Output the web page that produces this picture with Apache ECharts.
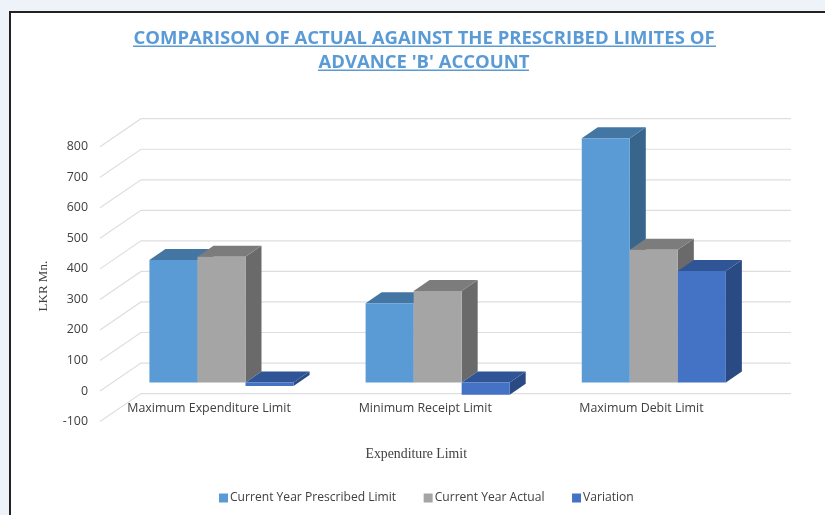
<!DOCTYPE html>
<html><head><meta charset="utf-8">
<style>
html,body{margin:0;padding:0;width:825px;height:515px;overflow:hidden;background:#eef3fa}
#frame{position:absolute;left:9px;top:11px;width:900px;height:600px;border:2px solid #222;background:#fff}
#c{position:absolute;left:0;top:0;width:825px;height:515px}
</style>
<script src="https://cdn.jsdelivr.net/npm/echarts@6/dist/echarts.min.js"></script>
</head><body><div id="frame"></div><div id="c"></div>
<script>
const categories = ['Maximum Expenditure Limit','Minimum Receipt Limit','Maximum Debit Limit'];
const prescribed = [401, 260, 800];
const actual = [412, 300, 435];
const variation = [-11, -40, 365];
const yTicks = [-100,0,100,200,300,400,500,600,700,800];
const names = ['Current Year Prescribed Limit','Current Year Actual','Variation'];
const colors = ['#5B9BD5','#A5A5A5','#4472C4'];
const topColors = ['#4476A4','#7C7C7C','#2F5597'];
const sideColors = ['#38658C','#6A6A6A','#294A83'];

const wallDX = 41, wallDY = -28, wallExtra = 1.5, barOffX = 13.4, barOffY = -8.5, barDX = 16, barDY = -11;

const chart = echarts.init(document.getElementById('c'));

function barRender(si){
  return function(params, api){
    const band = api.size([1,0])[0];
    const w = band/4.5;
    const cat = api.value(0), v = api.value(1);
    const p0 = api.coord([cat,0]), p1 = api.coord([cat,v]);
    const x0 = p0[0] + barOffX + (si-1.5)*w;
    const x1 = x0 + w;
    const yTop = Math.min(p0[1],p1[1]) + barOffY;
    const yBot = Math.max(p0[1],p1[1]) + barOffY;
    const poly = (pts,fill)=>({type:'polygon',shape:{points:pts},style:{fill:fill}});
    return {type:'group',children:[
      poly([[x1,yTop],[x1+barDX,yTop+barDY],[x1+barDX,yBot+barDY],[x1,yBot]],sideColors[si]),
      poly([[x0,yTop],[x0+barDX,yTop+barDY],[x1+barDX,yTop+barDY],[x1,yTop]],topColors[si]),
      poly([[x0,yTop],[x1,yTop],[x1,yBot],[x0,yBot]],colors[si])
    ]};
  };
}
function gridRender(params, api){
  const cs = params.coordSys;
  const y = api.coord([0, api.value(0)])[1];
  const st = {stroke:'#DEDEDE',lineWidth:1.2,fill:null};
  return {type:'polyline',shape:{points:[[cs.x,y],[cs.x+wallDX,y+wallDY],[cs.x+cs.width+wallDX+wallExtra,y+wallDY]]},style:st,silent:true};
}
const series = [{
  type:'custom',name:'walls',renderItem:gridRender,data:yTicks.map(v=>[v]),
  encode:{y:0},silent:true,z:1,clip:false
}];
[prescribed,actual,variation].forEach((vals,si)=>{
  series.push({type:'custom',name:names[si],renderItem:barRender(si),
    data:vals.map((v,i)=>[i,v]),encode:{x:0,y:1},itemStyle:{color:colors[si]},z:2+si,clip:false});
});

chart.setOption({
  animation:false,
  backgroundColor:'transparent',
  textStyle:{fontFamily:'Open Sans'},
  title:{
    text:"COMPARISON OF ACTUAL AGAINST THE PRESCRIBED LIMITES OF\nADVANCE 'B' ACCOUNT",
    left:419,top:22,textAlign:'center',
    textStyle:{color:'#5B9BD5',fontFamily:'Open Sans',fontWeight:'bold',fontSize:18.5,lineHeight:24}
  },
  legend:{
    data:names,bottom:11,left:219,padding:0,itemWidth:9,itemHeight:9,itemGap:27.5,
    icon:'rect',textStyle:{color:'#404040',fontFamily:'Open Sans',fontSize:12.1,padding:[0,0,0,-3]}
  },
  grid:{left:100,right:76.5,top:146.7,bottom:93.4},
  xAxis:{
    type:'category',data:categories,
    axisLine:{show:false},axisTick:{show:false},splitLine:{show:false},
    axisLabel:{margin:-19,color:'#404040',fontFamily:'Open Sans',fontSize:12.4,verticalAlign:'top',padding:[0,0,0,2]},
    name:'Expenditure Limit',nameLocation:'middle',nameGap:26,
    nameTextStyle:{fontFamily:'Liberation Serif',fontSize:13.8,color:'#404040',padding:[0,16,0,0]}
  },
  yAxis:{
    type:'value',min:-100,max:800,interval:100,
    axisLine:{show:false},axisTick:{show:false},splitLine:{show:false},
    axisLabel:{margin:12,color:'#404040',fontFamily:'Open Sans',fontSize:12.4},
    name:'LKR Mn.',nameLocation:'middle',nameGap:50,nameRotate:90,
    nameTextStyle:{fontFamily:'Liberation Serif',fontSize:13,color:'#404040',padding:[0,4,0,0]}
  },
  graphic:[
    {type:'rect',shape:{x:133,y:45.5,width:583,height:1.5},style:{fill:'#5B9BD5'},silent:true},
    {type:'rect',shape:{x:318,y:69.5,width:211,height:1.5},style:{fill:'#5B9BD5'},silent:true}
  ],
  series:series
});
</script></body></html>
